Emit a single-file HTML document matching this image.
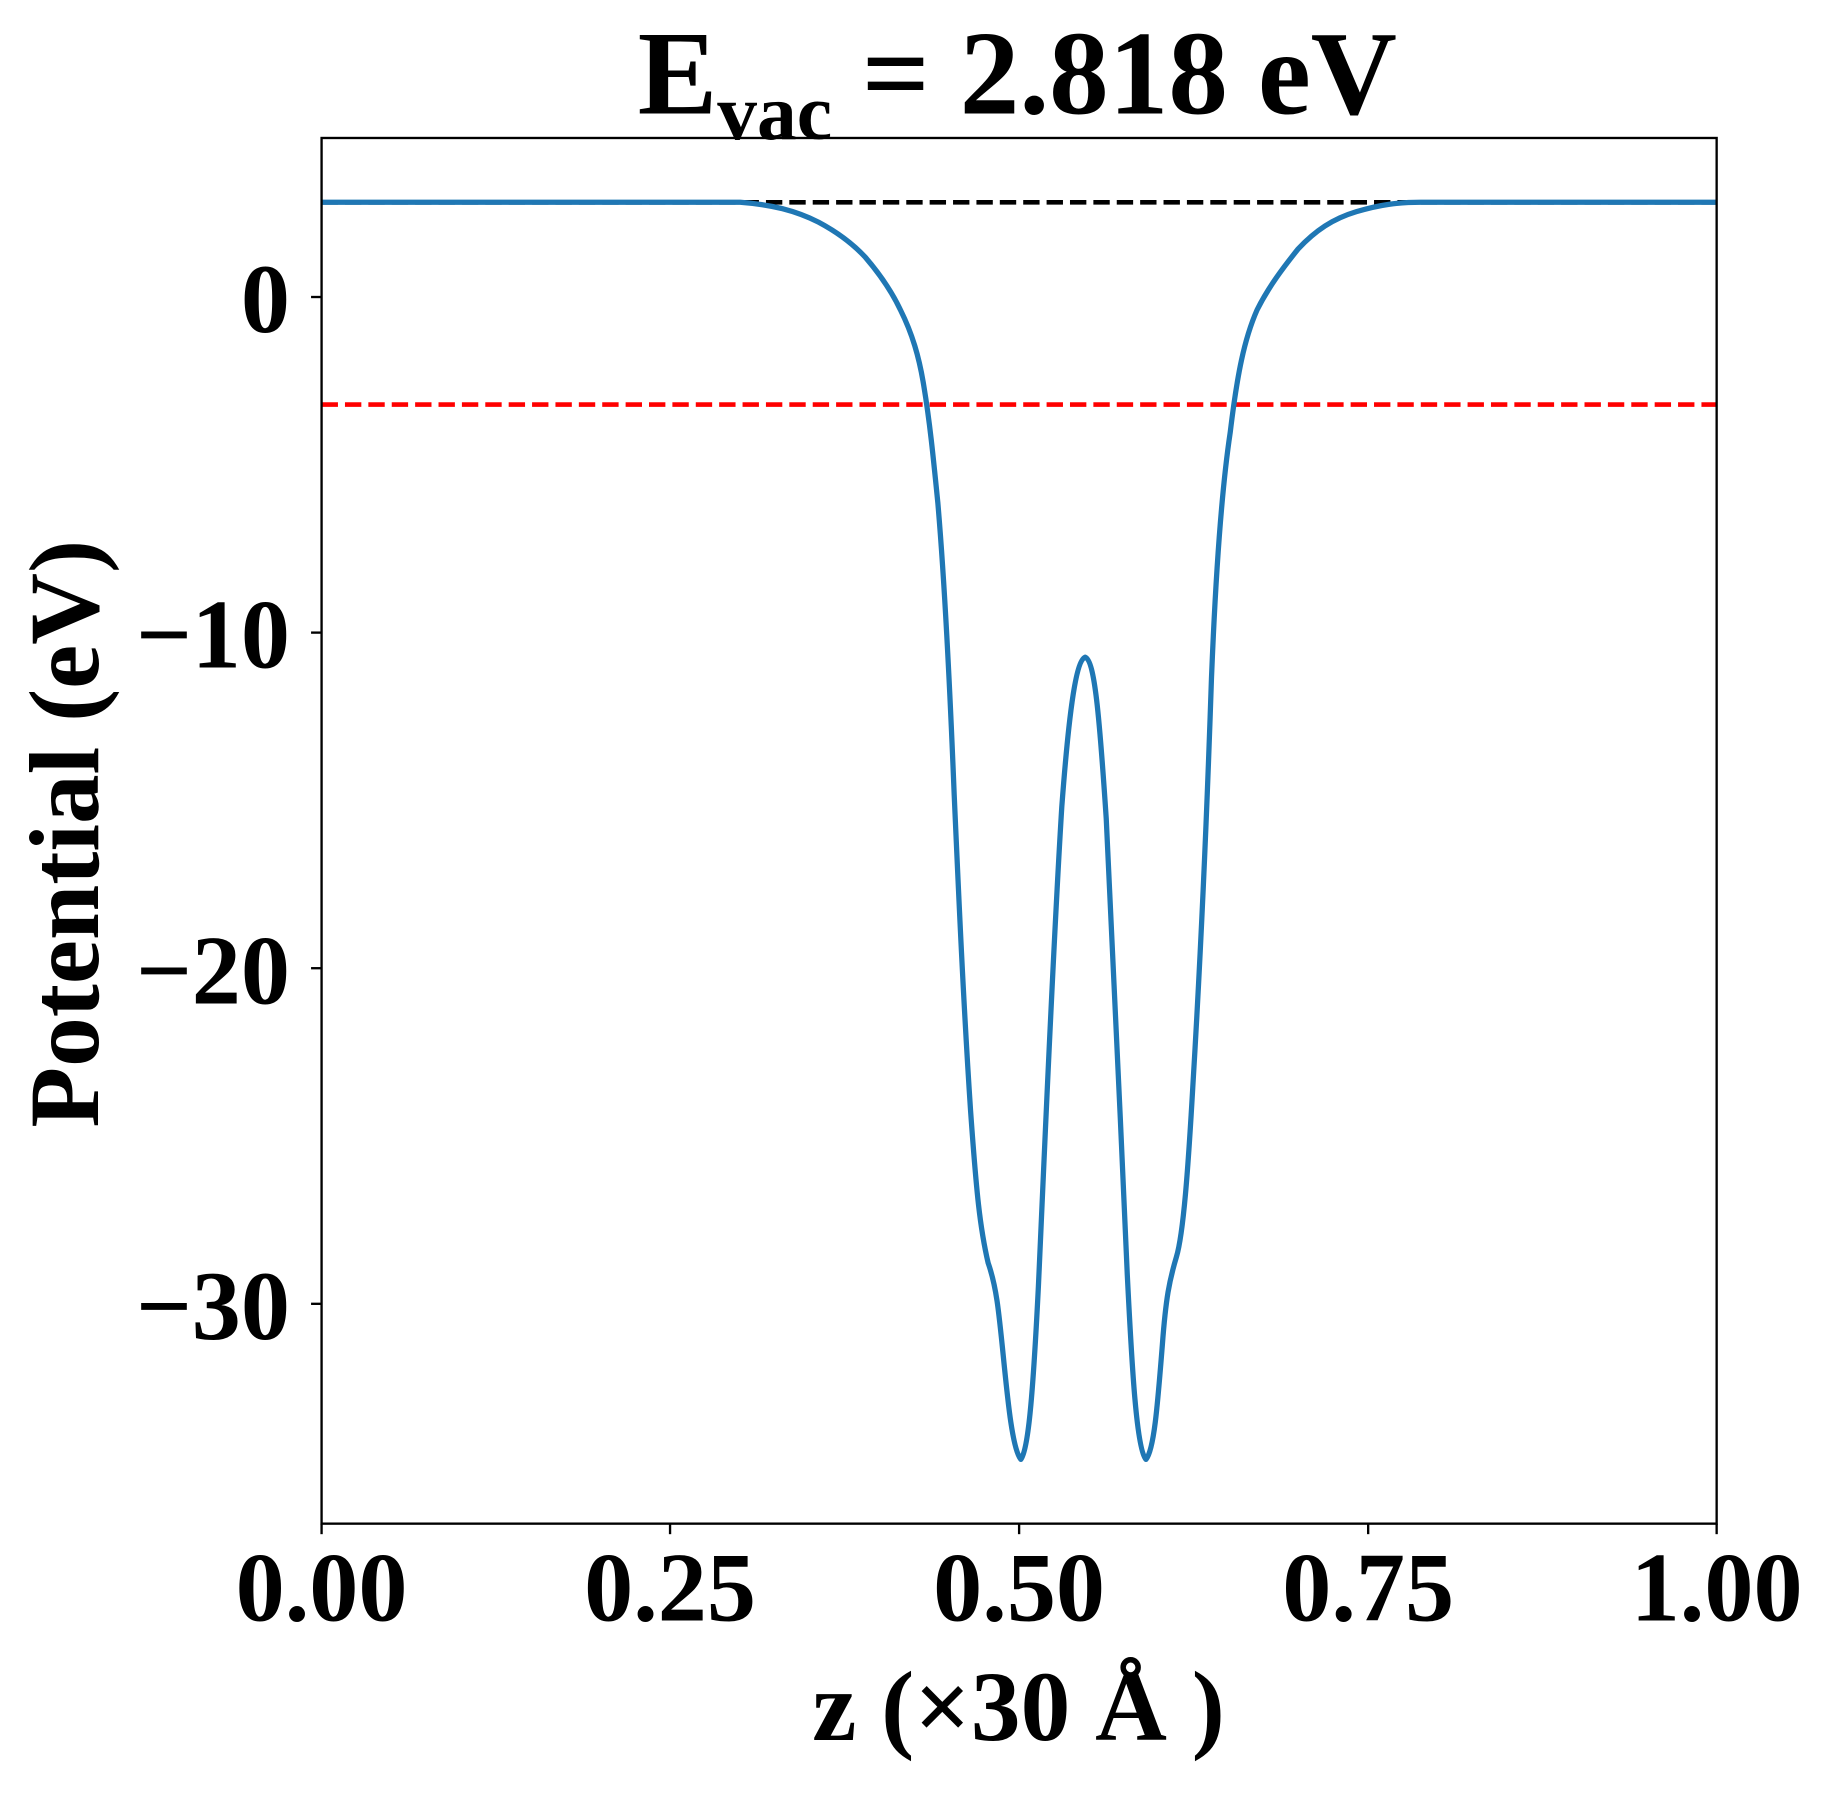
<!DOCTYPE html>
<html><head><style>html,body{margin:0;padding:0;background:#fff}svg{display:block}</style></head>
<body>
<svg width="1833" height="1794" viewBox="0 0 1567.5 1534.2" preserveAspectRatio="none" xmlns="http://www.w3.org/2000/svg" font-family="Liberation Serif, serif" font-weight="bold">
<rect width="1568" height="1535" fill="#fff"/>
<line x1="275" y1="173" x2="1468" y2="173" stroke="#000" stroke-width="4" stroke-dasharray="14,6"/>
<line x1="275" y1="346" x2="1468" y2="346" stroke="#f00" stroke-width="4" stroke-dasharray="14,6"/>
<path fill="none" stroke="#1f77b4" stroke-width="4.5" stroke-linejoin="round"
d="M275,173 L633,173 C660,175 680,180 700,190 C715,198 728,207 740,220 C752,234 762,248 770,265 C780,285 786,305 790,330 C795,360 798,390 802,430 C808,500 812,580 816,680 C820,770 824,860 830,950 C835,1020 838,1050 845,1080 C852,1100 854,1120 858,1160 C862,1200 866,1240 873,1248 C879,1240 883,1200 888,1100 C893,990 900,820 908,690 C914,610 920,565 928,562 C936,565 940,610 946,700 C952,810 958,960 964,1090 C968,1170 972,1240 980,1248 C987,1240 990,1200 994,1150 C997,1110 1000,1095 1006,1075 C1012,1055 1016,1000 1020,930 C1026,830 1032,700 1036,580 C1040,480 1046,410 1052,370 C1058,320 1064,290 1075,265 C1085,245 1098,228 1110,213 C1125,197 1140,187 1160,181 C1180,175 1195,173 1215,173 L1468,173"/>
<rect x="275" y="118" width="1193" height="1185" fill="none" stroke="#000" stroke-width="2"/>
<g stroke="#000" stroke-width="2">
<line x1="275" y1="1303" x2="275" y2="1312"/><line x1="573" y1="1303" x2="573" y2="1312"/><line x1="871.5" y1="1303" x2="871.5" y2="1312"/><line x1="1170" y1="1303" x2="1170" y2="1312"/><line x1="1468" y1="1303" x2="1468" y2="1312"/>
<line x1="266" y1="254" x2="275" y2="254"/><line x1="266" y1="541" x2="275" y2="541"/><line x1="266" y1="828" x2="275" y2="828"/><line x1="266" y1="1115" x2="275" y2="1115"/>
</g>
<g font-size="84" text-anchor="middle">
<text x="275" y="1386">0.00</text><text x="573" y="1386">0.25</text><text x="871.5" y="1386">0.50</text><text x="1170" y="1386">0.75</text><text x="1468" y="1386">1.00</text>
</g>
<g font-size="84" text-anchor="end">
<text x="248" y="284">0</text><text x="248" y="571">−10</text><text x="248" y="858">−20</text><text x="248" y="1145">−30</text>
</g>
<text x="871" y="1488" font-size="85" text-anchor="middle">z (×30 Å )</text>
<text transform="translate(84,713) rotate(-90)" font-size="85" text-anchor="middle">Potential (eV)</text>
<text x="870" y="97" font-size="102" text-anchor="middle">E<tspan font-size="68" dy="22">vac</tspan><tspan dy="-22"> = 2.818 eV</tspan></text>
</svg>
</body></html>
